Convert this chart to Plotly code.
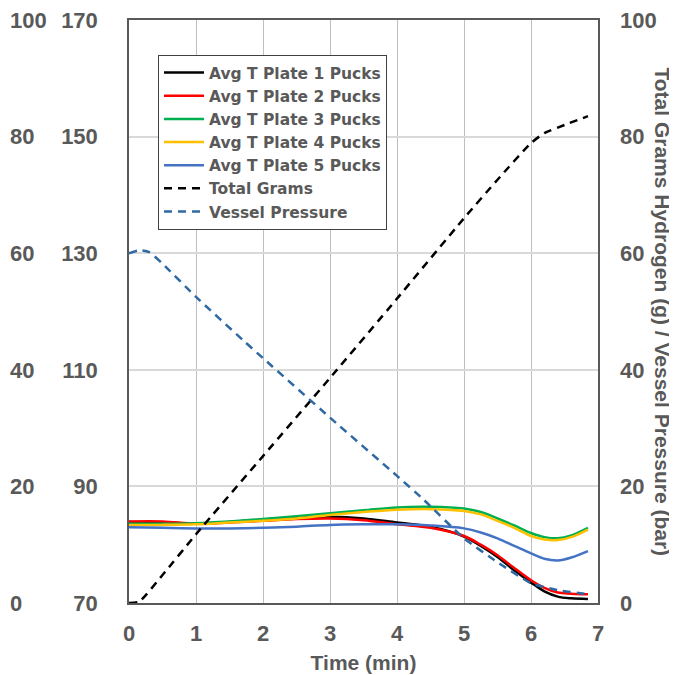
import plotly.graph_objects as go

# ---- data ----
time_temp = [0, 0.5, 1, 1.5, 2, 2.5, 3, 3.5, 4, 4.5, 5, 5.25, 5.5, 5.75, 6, 6.2, 6.4, 6.6, 6.85]
plate1 = [83.9, 83.8, 83.6, 83.9, 84.3, 84.7, 84.8, 84.5, 83.8, 83.1, 81.4, 79.8, 77.9, 75.6, 73.5, 72.0, 71.1, 70.8, 70.7]
plate2 = [84.0, 84.0, 83.6, 83.8, 84.1, 84.4, 84.5, 84.2, 83.5, 82.9, 81.5, 80.0, 78.2, 76.0, 73.9, 72.6, 71.8, 71.6, 71.5]
plate3 = [83.6, 83.6, 83.7, 84.0, 84.4, 84.9, 85.4, 85.9, 86.4, 86.5, 86.2, 85.6, 84.5, 83.3, 82.0, 81.3, 81.1, 81.6, 82.9]
plate4 = [83.4, 83.4, 83.5, 83.8, 84.1, 84.5, 85.1, 85.6, 86.0, 86.1, 85.8, 85.2, 84.1, 82.9, 81.5, 80.9, 80.8, 81.3, 82.6]
plate5 = [83.0, 82.9, 82.8, 82.8, 82.9, 83.1, 83.4, 83.5, 83.5, 83.3, 82.8, 82.1, 81.1, 79.8, 78.5, 77.6, 77.3, 77.8, 78.9]

time_grams = [0, 0.15, 0.5, 1, 2, 3, 4, 5, 5.5, 6, 6.2, 6.5, 6.85]
total_grams = [0, 0.2, 4.8, 11.8, 25.2, 38.6, 52.2, 66.0, 72.6, 78.9, 80.6, 82.0, 83.5]

time_press = [0, 0.15, 0.3, 0.5, 1, 1.7, 2, 3, 4, 4.4, 5, 5.5, 6, 6.4, 6.85]
vessel_pressure = [60, 60.5, 60.2, 58.2, 52.5, 45.1, 42.0, 31.8, 21.8, 17.7, 11.1, 7.0, 3.4, 2.2, 1.5]

x_ticks = [0, 1, 2, 3, 4, 5, 6, 7]
temp_ticks = [70, 90, 110, 130, 150, 170]
pct_ticks = [0, 20, 40, 60, 80, 100]

# ---- style ----
OFF = 8                      # page body offset
W, H = 677 - OFF, 675 - OFF
L, R, T, B = 129 - OFF, 598 - OFF, 20 - OFF, 603 - OFF
FONT = "Liberation Sans, Arial, sans-serif"
LFONT = "DejaVu Sans, Liberation Sans, sans-serif"
GRAY = "#595959"

fig = go.Figure()
temps = [
    ("Avg T Plate 1 Pucks", plate1, "#000000"),
    ("Avg T Plate 2 Pucks", plate2, "#FF0000"),
    ("Avg T Plate 3 Pucks", plate3, "#00B050"),
    ("Avg T Plate 4 Pucks", plate4, "#FFC000"),
    ("Avg T Plate 5 Pucks", plate5, "#4472C4"),
]
for name, vals, col in temps:
    fig.add_trace(go.Scatter(x=time_temp, y=vals, name=name, mode="lines",
                             line=dict(color=col, width=2.5, shape="spline"), yaxis="y"))
fig.add_trace(go.Scatter(x=time_grams, y=total_grams, name="Total Grams", mode="lines",
                         line=dict(color="#000000", width=2.5, dash="8px,6px", shape="spline", smoothing=0.5),
                         yaxis="y2"))
fig.add_trace(go.Scatter(x=time_press, y=vessel_pressure, name="Vessel Pressure", mode="lines",
                         line=dict(color="#2F69A3", width=2.5, dash="8px,6px", shape="spline", smoothing=0.5),
                         yaxis="y2"))
# empty trace so the outer left 0-100 axis is created
fig.add_trace(go.Scatter(x=[None], y=[None], yaxis="y3", showlegend=False, hoverinfo="skip"))

tickfont = dict(family=FONT, size=22, color=GRAY, weight="bold")

fig.update_layout(
    width=W, height=H,
    margin=dict(l=0, r=0, t=T, b=H - B, autoexpand=False),
    paper_bgcolor="white", plot_bgcolor="white",
    font=dict(family=FONT, color=GRAY),
    xaxis=dict(domain=[L / W, R / W], range=[0, 7], tickvals=x_ticks, automargin=False,
               showgrid=True, gridcolor="#BFBFBF", gridwidth=1,
               showline=True, linecolor=GRAY, linewidth=1.5, mirror=True,
               zeroline=False, ticks="", tickfont=tickfont, ticklabelstandoff=10,
               ticklabeloverflow="allow",
               title=dict(text="Time (min)", font=dict(family=FONT, size=21, color=GRAY, weight="bold"),
                          standoff=10)),
    yaxis=dict(range=[70, 170], tickvals=temp_ticks, anchor="x", side="left", automargin=False,
               showgrid=True, gridcolor="#D9D9D9", gridwidth=1.5,
               showline=True, linecolor=GRAY, linewidth=1.5, mirror=True,
               zeroline=False, ticks="", tickfont=tickfont, ticklabelstandoff=25,
               ticklabeloverflow="allow"),
    yaxis2=dict(range=[0, 100], tickvals=pct_ticks, overlaying="y", anchor="x", side="right",
                automargin=False, showgrid=False, showline=False, zeroline=False, ticks="",
                tickfont=tickfont, ticklabelstandoff=21, ticklabeloverflow="allow"),
    yaxis3=dict(range=[0, 100], tickvals=pct_ticks, overlaying="y", anchor="free", side="right",
                position=1 / W, automargin=False, showgrid=False, showline=False, zeroline=False,
                ticks="", tickfont=tickfont, ticklabeloverflow="allow"),
    legend=dict(x=(158 - OFF) / W, y=(B - (55 - OFF)) / (B - T), xanchor="left", yanchor="top",
                bgcolor="white", bordercolor="#404040", borderwidth=1,
                font=dict(family=LFONT, size=15.5, color=GRAY, weight="bold"),
                tracegroupgap=0, itemwidth=40),
    showlegend=True,
    annotations=[
        dict(text="Total Grams Hydrogen (g) / Vessel Pressure (bar)", textangle=90,
             xref="paper", yref="paper", x=(662 - OFF) / W, y=0.5, xanchor="center", yanchor="middle",
             showarrow=False, font=dict(family=FONT, size=21, color=GRAY, weight="bold")),
        dict(text="0", xref="paper", yref="paper", x=-6 / W, y=(B - (633 - OFF)) / (B - T),
             xanchor="center", yanchor="middle", showarrow=False,
             font=dict(family=FONT, size=22, color=GRAY, weight="bold")),
    ],
)

fig.write_html("out.html")
